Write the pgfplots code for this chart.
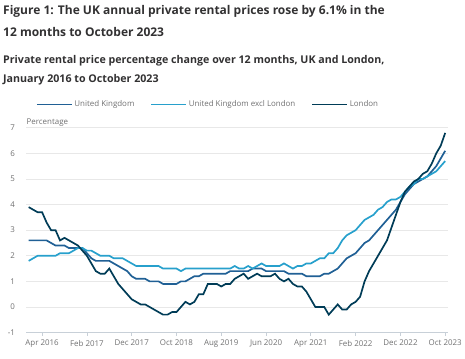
\documentclass[border=0pt]{standalone}
\usepackage{fontspec}
\setmainfont{Open Sans}
\usepackage{pgfplots}
\pgfplotsset{compat=1.18}
\usepackage{pgfplotstable}
\definecolor{ukc}{HTML}{206095}
\definecolor{exc}{HTML}{27A0CC}
\definecolor{lonc}{HTML}{003C57}
\definecolor{titlec}{HTML}{323132}
\definecolor{tickc}{HTML}{707071}
\definecolor{gridc}{HTML}{E8E8E8}
\definecolor{axc}{HTML}{C8D0D8}

\pgfplotstableread{
m uk exl lon
0 2.6 1.8 3.9
1 2.6 1.9 3.8
2 2.6 2.0 3.7
3 2.6 2.0 3.7
4 2.6 2.0 3.3
5 2.5 2.0 3.0
6 2.4 2.0 3.0
7 2.4 2.1 2.6
8 2.4 2.1 2.7
9 2.3 2.1 2.6
10 2.3 2.2 2.5
11 2.3 2.3 2.4
12 2.3 2.3 2.2
13 2.1 2.2 2.0
14 1.9 2.2 1.7
15 1.8 2.1 1.4
16 1.8 2.0 1.3
17 1.8 2.0 1.3
18 1.8 2.0 1.5
19 1.7 1.9 1.2
20 1.6 1.9 0.9
21 1.5 1.9 0.7
22 1.4 1.8 0.5
23 1.2 1.7 0.3
24 1.1 1.6 0.2
25 1.1 1.6 0.1
26 1.1 1.6 0.1
27 1.0 1.6 0.0
28 1.0 1.6 -0.1
29 1.0 1.6 -0.2
30 0.9 1.5 -0.3
31 0.9 1.5 -0.3
32 0.9 1.5 -0.2
33 0.9 1.5 -0.2
34 1.0 1.4 0.0
35 1.0 1.5 0.2
36 1.1 1.5 0.1
37 1.2 1.5 0.2
38 1.2 1.5 0.5
39 1.3 1.5 0.5
40 1.3 1.5 0.9
41 1.3 1.5 0.9
42 1.3 1.5 0.9
43 1.3 1.5 0.8
44 1.3 1.5 0.9
45 1.4 1.5 0.9
46 1.4 1.6 1.1
47 1.4 1.5 1.2
48 1.4 1.5 1.3
49 1.4 1.6 1.1
50 1.5 1.5 1.2
51 1.5 1.6 1.3
52 1.5 1.7 1.2
53 1.4 1.6 1.2
54 1.4 1.6 1.2
55 1.4 1.6 1.3
56 1.4 1.6 1.1
57 1.4 1.7 1.0
58 1.3 1.6 1.1
59 1.3 1.5 0.9
60 1.3 1.6 0.8
61 1.3 1.6 0.8
62 1.2 1.7 0.6
63 1.2 1.7 0.3
64 1.2 1.8 0.0
65 1.2 1.9 0.0
66 1.3 1.9 0.0
67 1.3 2.1 -0.3
68 1.4 2.1 -0.1
69 1.5 2.3 0.1
70 1.7 2.6 -0.1
71 1.9 2.8 -0.1
72 2.0 2.9 0.1
73 2.1 3.0 0.2
74 2.3 3.2 0.4
75 2.5 3.4 1.0
76 2.6 3.5 1.4
77 2.8 3.6 1.7
78 3.0 3.8 2.0
79 3.2 3.9 2.3
80 3.4 4.1 2.6
81 3.6 4.2 3.1
82 3.8 4.2 3.6
83 4.1 4.3 4.1
84 4.4 4.5 4.5
85 4.6 4.7 4.7
86 4.8 4.8 4.9
87 4.9 5.0 5.0
88 5.0 5.0 5.2
89 5.1 5.1 5.3
90 5.3 5.2 5.6
91 5.5 5.3 6.0
92 5.8 5.5 6.3
93 6.1 5.7 6.8
}\rent

\begin{document}
\begin{tikzpicture}[x=1bp,y=1bp]
\begin{axis}[
  at={(28.8bp,51.7bp)}, anchor=origin,
  scale only axis, width=423.3bp, height=205.7bp,
  xmin=-0.5, xmax=93.6, ymin=-1, ymax=7,
  axis x line=bottom, axis y line=left,
  axis line style={-},
  x axis line style={color=axc, line width=0.8bp},
  y axis line style={draw=none},
  xtick={3,13,23,33,43,53,63,73,83,93},
  xticklabels={Apr 2016,Feb 2017,Dec 2017,Oct 2018,Aug 2019,Jun 2020,Apr 2021,Feb 2022,Dec 2022,Oct 2023},
  ytick={-1,0,1,2,3,4,5,6,7},
  ymajorgrids, grid style={gridc, line width=0.8bp},
  tick align=outside,
  x tick style={color=axc, line width=0.8bp}, major tick length=3bp,
  y tick style={draw=none},
  tick label style={font=\fontsize{8}{10}\selectfont, text=tickc},
  /pgf/number format/assume math mode=true,
  yticklabel style={xshift=-5bp},
  xticklabel style={yshift=-1bp},
  legend style={at={(axis description cs:0.022,1.113)}, anchor=west, draw=none, fill=none,
    font=\fontsize{8}{10}\selectfont, text=tickc, inner sep=0pt,
    /tikz/every even column/.append style={column sep=14bp}},
  legend columns=3,
  clip=false,
]
\addplot[ukc, line width=1.7bp, legend image code/.code={\draw[ukc, line width=1.7bp] (0bp,0bp) -- (35bp,0bp);}] table[x=m,y=uk] {\rent};
\addlegendentry{United Kingdom}
\addplot[exc, line width=1.7bp, legend image code/.code={\draw[exc, line width=1.7bp] (0bp,0bp) -- (35bp,0bp);}] table[x=m,y=exl] {\rent};
\addlegendentry{United Kingdom excl London}
\addplot[lonc, line width=1.7bp, legend image code/.code={\draw[lonc, line width=1.7bp] (0bp,0bp) -- (35bp,0bp);}] table[x=m,y=lon] {\rent};
\addlegendentry{London}
\node[anchor=base west, inner sep=0, font=\fontsize{8}{10}\selectfont, text=tickc] at (rel axis cs:0,1) [yshift=3bp] {Percentage};
\end{axis}
\node[anchor=base west, inner sep=0, text=titlec, font=\fontsize{12.1}{15}\selectfont\bfseries] at (3bp,345bp) {Figure 1: The UK annual private rental prices rose by 6.1\% in the};
\node[anchor=base west, inner sep=0, text=titlec, font=\fontsize{12.1}{15}\selectfont\bfseries] at (3bp,323bp) {12 months to October 2023};
\node[anchor=base west, inner sep=0, text=titlec, font=\fontsize{10.75}{13}\selectfont\bfseries] at (3bp,296.7bp) {Private rental price percentage change over 12 months, UK and London,};
\node[anchor=base west, inner sep=0, text=titlec, font=\fontsize{10.75}{13}\selectfont\bfseries] at (3bp,276.7bp) {January 2016 to October 2023};
\path (0bp,0bp) rectangle (465bp,360bp);
\end{tikzpicture}
\end{document}
